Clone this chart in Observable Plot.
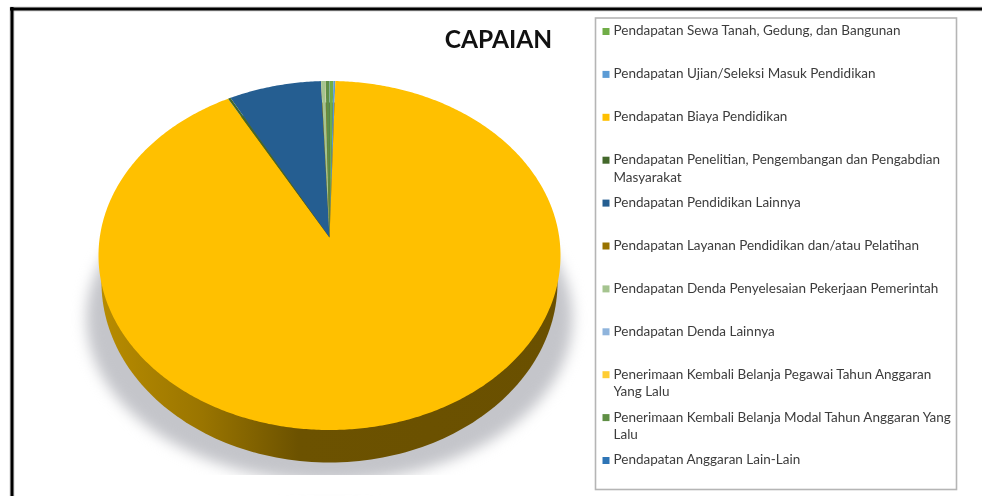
<!DOCTYPE html>
<html>
<head>
<meta charset="utf-8">
<script src="https://cdn.jsdelivr.net/npm/d3@7"></script>
<script src="https://cdn.jsdelivr.net/npm/@observablehq/plot@0.6"></script>
<style>
  html, body { margin: 0; padding: 0; background: #fff; overflow: hidden; }
</style>
</head>
<body>
<div id="chart"></div>
<script>
const chartTitle = "CAPAIAN";

const categories = [
  "Pendapatan Sewa Tanah, Gedung, dan Bangunan",
  "Pendapatan Ujian/Seleksi Masuk Pendidikan",
  "Pendapatan Biaya Pendidikan",
  "Pendapatan Penelitian, Pengembangan dan Pengabdian\nMasyarakat",
  "Pendapatan Pendidikan Lainnya",
  "Pendapatan Layanan Pendidikan dan/atau Pelatihan",
  "Pendapatan Denda Penyelesaian Pekerjaan Pemerintah",
  "Pendapatan Denda Lainnya",
  "Penerimaan Kembali Belanja Pegawai Tahun Anggaran\nYang Lalu",
  "Penerimaan Kembali Belanja Modal Tahun Anggaran Yang\nLalu",
  "Pendapatan Anggaran Lain-Lain"
];
const shares = [0.30, 0.15, 91.52, 0.20, 7.17, 0.02, 0.30, 0.02, 0.02, 0.28, 0.02];
const sliceColors = ["#70AD47", "#5B9BD5", "#FFC000", "#43682B", "#255E91", "#997300",
                     "#A5C48F", "#8FB4DC", "#FFCD33", "#5F8F45", "#2E75B6"];

// Projected disc geometry (tilted pie seen in perspective)
const disc = {cx: 329, cy: 255, rx: 231, ry: 174.5, apexY: 237};
const base = {cx: 329, cy: 282, rx: 228, ry: 180};
const shadow = {cx: 329, cy: 318, rx: 243, ry: 163};

const ellipsePoints = (e, key, n = 240) =>
  d3.range(n).map(i => {
    const t = (i / n) * 2 * Math.PI;
    return {x: e.cx + e.rx * Math.cos(t), y: e.cy + e.ry * Math.sin(t), key};
  });

// Where the ray at pie angle a (clockwise from 12 o'clock) meets the disc rim
function rim(a) {
  const v0 = (disc.apexY - disc.cy) / disc.ry;
  const c = Math.cos(a), s = Math.sin(a);
  const t = v0 * c + Math.sqrt(v0 * v0 * c * c + 1 - v0 * v0);
  return {x: disc.cx + disc.rx * t * s, y: disc.cy + disc.ry * (v0 - t * c)};
}

const total = d3.sum(shares);
const ends = d3.cumsum(shares);
const slicePoints = categories.flatMap((name, i) => {
  const a0 = ((i ? ends[i - 1] : 0) / total) * 2 * Math.PI;
  const a1 = (ends[i] / total) * 2 * Math.PI;
  const steps = Math.max(2, Math.ceil((a1 - a0) / 0.01));
  const arc = d3.range(steps + 1).map(k => rim(a0 + (a1 - a0) * k / steps));
  return [{x: disc.cx, y: disc.apexY}, ...arc].map(p => ({...p, name, color: sliceColors[i]}));
});

const legend = categories.map((label, i) => ({
  label, color: sliceColors[i], row: 31 + 42.9 * i
}));

const gradientDef = () => {
  const defs = d3.create("svg:defs");
  const g = defs.append("linearGradient").attr("id", "sideFill")
    .attr("gradientUnits", "userSpaceOnUse")
    .attr("x1", 100).attr("x2", 560).attr("y1", 0).attr("y2", 0);
  [[0, "#B88C00"], [0.22, "#9A7500"], [0.43, "#6C5200"], [1, "#6A5000"]].forEach(([o, c]) =>
    g.append("stop").attr("offset", o).attr("stop-color", c));
  return defs.node();
};

const font = "Lato, 'Noto Sans', sans-serif";

const plot = Plot.plot({
  width: 982,
  height: 496,
  margin: 0,
  x: {domain: [0, 982], range: [0, 982], axis: null},
  y: {domain: [0, 496], range: [0, 496], axis: null},
  style: {background: "#fff", fontFamily: font},
  marks: [
    gradientDef,
    // chart frame
    Plot.ruleY([8.5], {x1: 10, x2: 982, stroke: "#888", strokeWidth: 5, strokeOpacity: 0.35}),
    Plot.ruleX([11.5], {y1: 7, y2: 496, stroke: "#888", strokeWidth: 5, strokeOpacity: 0.35}),
    Plot.ruleY([8.5], {x1: 10, x2: 982, stroke: "#000", strokeWidth: 3}),
    Plot.ruleX([11.5], {y1: 7, y2: 496, stroke: "#000", strokeWidth: 3}),
    // shadow
    Plot.line(ellipsePoints(shadow, "shadow"), {
      x: "x", y: "y", z: "key", fill: "#c4c5ca", stroke: "none",
      curve: "linear-closed", imageFilter: "blur(7px)"
    }),
    Plot.rect([0], {x1: () => 60, x2: () => 590, y1: () => 475, y2: () => 494, fill: "#fff"}),
    // pie side
    Plot.line(ellipsePoints(base, "side"), {
      x: "x", y: "y", z: "key", fill: "url(#sideFill)", stroke: "none", curve: "linear-closed"
    }),
    // pie top
    Plot.line(slicePoints, {
      x: "x", y: "y", z: "name", fill: "color", stroke: "none", curve: "linear-closed"
    }),
    // title
    Plot.text([chartTitle], {
      x: () => 498, y: () => 39.5, text: d => d, fontSize: 24.5, fontWeight: 700,
      fill: "#111", textAnchor: "middle", fontFamily: font, imageFilter: "blur(0.35px)"
    }),
    // legend box
    Plot.rect([0], {x1: () => 595.5, x2: () => 956.5, y1: () => 18, y2: () => 489.5,
      fill: "#fff", stroke: "#b5b5b5", strokeWidth: 1.6}),
    Plot.dot(legend, {
      x: () => 605.5, y: "row", symbol: "square", r: 3.95, fill: "color", stroke: "none"
    }),
    Plot.text(legend, {
      x: () => 613, y: "row", text: "label", dy: -8.5, lineAnchor: "top", textAnchor: "start",
      fontSize: 13.5, lineHeight: 1.3, fill: "#3c3c3c", fontFamily: font,
      imageFilter: "blur(0.3px)"
    })
  ]
});
document.getElementById("chart").append(plot);
</script>
</body>
</html>
